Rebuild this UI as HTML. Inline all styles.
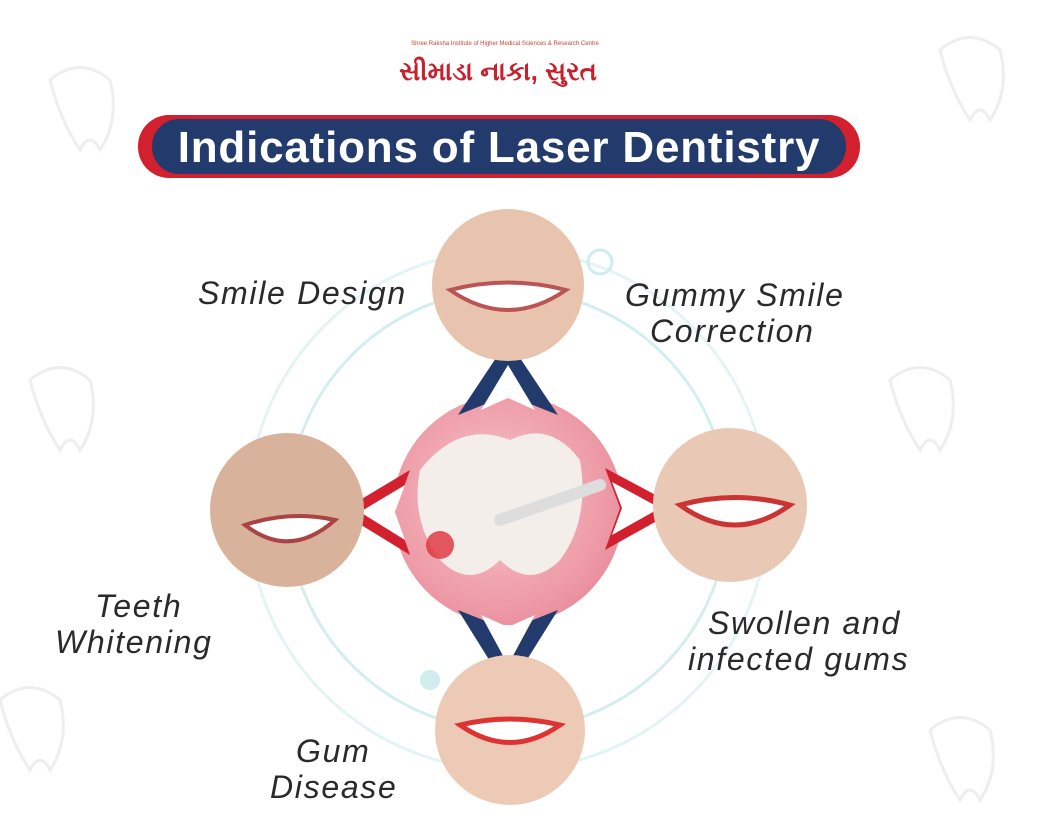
<!DOCTYPE html>
<html><head><meta charset="utf-8"><style>
html,body{margin:0;padding:0;}
body{width:1039px;height:834px;background:#fff;position:relative;overflow:hidden;font-family:"Liberation Sans",sans-serif;}
.lbl{position:absolute;font-style:italic;color:#2a2a2a;font-size:32px;line-height:36px;letter-spacing:1.7px;white-space:nowrap;}
</style></head><body>
<svg width="1039" height="834" style="position:absolute;left:0;top:0">
 <g fill="none" stroke="#eeeeee" stroke-width="3">
  <path d="M50 80 q30 -25 60 0 q10 40 -10 70 q-10 -20 -20 0 q-20 -30 -30 -70z"/>
  <path d="M940 50 q30 -25 60 0 q10 40 -10 70 q-10 -20 -20 0 q-20 -30 -30 -70z"/>
  <path d="M890 380 q30 -25 60 0 q10 40 -10 70 q-10 -20 -20 0 q-20 -30 -30 -70z"/>
  <path d="M30 380 q30 -25 60 0 q10 40 -10 70 q-10 -20 -20 0 q-20 -30 -30 -70z"/>
  <path d="M930 730 q30 -25 60 0 q10 40 -10 70 q-10 -20 -20 0 q-20 -30 -30 -70z"/>
  <path d="M0 700 q30 -25 60 0 q10 40 -10 70 q-10 -20 -20 0 q-20 -30 -30 -70z"/>
 </g>
 <g fill="none" stroke="#d4eef0" stroke-width="3">
  <circle cx="508" cy="510" r="220"/>
  <circle cx="508" cy="510" r="260" stroke="#e4f4f5"/>
 </g>
 <circle cx="430" cy="680" r="10" fill="#cfecef"/>
 <circle cx="600" cy="262" r="12" fill="none" stroke="#cfecef" stroke-width="3"/>
 <rect x="138" y="115" width="722" height="63" rx="31" fill="#d3202f"/>
 <rect x="152" y="119" width="694" height="55" rx="27" fill="#233a6c"/>
 <text x="499" y="162" text-anchor="middle" font-family="Liberation Sans" font-weight="bold" font-size="44" letter-spacing="0.8" fill="#fff">Indications of Laser Dentistry</text>
 <text x="505" y="45" text-anchor="middle" font-size="6" fill="#c43">Shree Raksha Institute of Higher Medical Sciences &amp; Research Centre</text>
 <text x="498" y="80" text-anchor="middle" font-family="Liberation Sans, sans-serif" font-weight="bold" font-size="26" fill="#c8202c">સીમાડા નાકા, સુરત</text>
 <defs><radialGradient id="g1" cx="0.45" cy="0.45" r="0.6"><stop offset="0" stop-color="#fbe3e6"/><stop offset="0.7" stop-color="#f0a7b1" stop-opacity="0.4"/><stop offset="1" stop-color="#e57f8f" stop-opacity="0.6"/></radialGradient></defs>
 <circle cx="508" cy="510" r="115" fill="#ee9aa6"/>
 <circle cx="508" cy="510" r="115" fill="url(#g1)"/>
 <path d="M420 470 q40 -50 90 -30 q40 -20 70 20 q10 60 -20 100 q-30 30 -60 0 q-30 30 -60 0 q-30 -40 -20 -90z" fill="#f4eeea"/>
 <path d="M500 520 l100 -35" stroke="#ddd" stroke-width="12" stroke-linecap="round"/>
 <circle cx="440" cy="545" r="14" fill="#e0303a" opacity="0.8"/>
 <g>
  <polygon points="508,340 558,415 508,395 458,415" fill="#233a6c"/>
  <polygon points="508,365 535,410 508,398 481,410" fill="#fff"/>
  <polygon points="508,690 558,610 508,630 458,610" fill="#233a6c"/>
  <polygon points="508,665 535,615 508,627 481,615" fill="#fff"/>
  <polygon points="340,512 410,470 395,512 410,555" fill="#d3202f"/>
  <polygon points="360,512 405,485 395,512 405,540" fill="#fff"/>
  <polygon points="680,508 605,468 620,508 605,550" fill="#d3202f"/>
  <polygon points="660,508 612,482 622,508 612,535" fill="#fff"/>
 </g>
 <g>
  <circle cx="508" cy="285" r="76" fill="#e8c3ad"/>
  <path d="M450 290 q58 40 116 0 q-58 -15 -116 0z" fill="#fff" stroke="#b55" stroke-width="4"/>
  <circle cx="287" cy="510" r="77" fill="#d8b29a"/>
  <path d="M245 525 q45 35 90 -5 q-45 -10 -90 5z" fill="#fff" stroke="#a44" stroke-width="4"/>
  <circle cx="730" cy="505" r="77" fill="#e9c9b6"/>
  <path d="M680 505 q55 40 110 0 q-55 -15 -110 0z" fill="#fff" stroke="#c33" stroke-width="5"/>
  <circle cx="510" cy="730" r="75" fill="#eccab5"/>
  <path d="M460 725 q50 35 100 0 q-50 -12 -100 0z" fill="#fff" stroke="#d33" stroke-width="5"/>
 </g>
</svg>
<div class="lbl" style="left:198px;top:275px;">Smile Design</div>
<div class="lbl" style="left:625px;top:277px;">Gummy Smile<br><span style="padding-left:25px">Correction</span></div>
<div class="lbl" style="left:55px;top:588px;"><span style="padding-left:40px">Teeth</span><br>Whitening</div>
<div class="lbl" style="left:688px;top:605px;"><span style="padding-left:20px">Swollen and</span><br>infected gums</div>
<div class="lbl" style="left:270px;top:733px;"><span style="padding-left:26px">Gum</span><br>Disease</div>
</body></html>
